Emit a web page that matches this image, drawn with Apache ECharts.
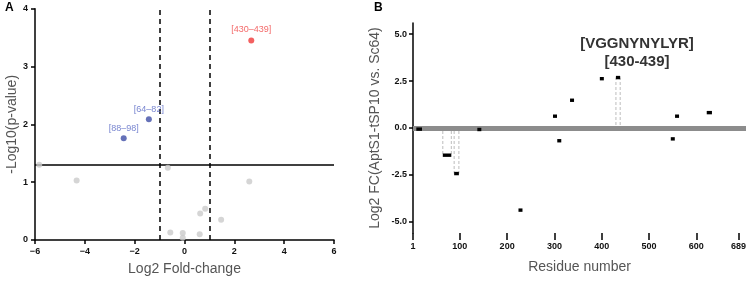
<!DOCTYPE html>
<html>
<head>
<meta charset="utf-8">
<script src="https://cdn.jsdelivr.net/npm/echarts@6/dist/echarts.min.js"></script>
<style>
  html, body { margin: 0; padding: 0; background: #fff; }
  #chart { width: 749px; height: 281px; }
</style>
</head>
<body>
<div id="chart"></div>
<script>
// panel A - volcano plot
var volcanoGray = [
  [-5.83, 1.30], [-4.33, 1.03], [-0.67, 1.25], [2.60, 1.01],
  [0.83, 0.54], [0.63, 0.46], [1.47, 0.35], [-0.57, 0.13],
  [-0.07, 0.12], [-0.07, 0.04], [0.61, 0.10]
];
var volcanoDown = [[-1.43, 2.09, '[64–82]'], [-2.44, 1.76, '[88–98]']];
var volcanoUp = [[2.68, 3.45, '[430–439]']];
var pThreshold = 1.3;
var fcThreshold = [-1, 1];

// panel B - peptides along the sequence [start, end, log2FC, highlighted]
var pepStart = [8, 64, 88, 137, 224, 297, 306, 333, 396, 430, 546, 555, 622];
var pepEnd   = [20, 82, 98, 145, 232, 305, 314, 341, 404, 439, 554, 563, 633];
var pepFC    = [-0.06, -1.45, -2.43, -0.08, -4.38, 0.63, -0.68, 1.48, 2.63, 2.69, -0.58, 0.63, 0.82];
var pepSig   = [0, 1, 1, 0, 0, 0, 0, 0, 0, 1, 0, 0, 0];
var residueTicks = [1, 100, 200, 300, 400, 500, 600, 689];
var fcTicks = [-5, -2.5, 0, 2.5, 5];

var peptides = pepStart.map(function (s, i) {
  return [s, pepEnd[i], pepFC[i], pepSig[i]];
});

var chart = echarts.init(document.getElementById('chart'));

var tickFont = { color: '#111', fontSize: 9, fontWeight: 'bold', fontFamily: 'Liberation Sans' };
var nameFont = { color: '#555', fontSize: 14, fontFamily: 'Liberation Sans' };

function renderPeptide(params, api) {
  var s = api.value(0), e = api.value(1), fc = api.value(2), sig = api.value(3);
  var p1 = api.coord([s, fc]);
  var p2 = api.coord([e, fc]);
  var zero = api.coord([s, 0]);
  var w = Math.max(p2[0] - p1[0], 4);
  var children = [];
  if (sig) {
    var yEdge = fc > 0 ? zero[1] - 3 : zero[1] + 3;
    [p1[0], p1[0] + w].forEach(function (x) {
      children.push({
        type: 'line',
        shape: { x1: x, y1: yEdge, x2: x, y2: p1[1] },
        style: { stroke: '#bdbdbd', lineWidth: 1, lineDash: [3, 2] }
      });
    });
  }
  children.push({
    type: 'rect',
    shape: { x: p1[0], y: p1[1] - 1.7, width: w, height: 3.4 },
    style: { fill: '#000' }
  });
  return { type: 'group', children: children };
}

chart.setOption({
  animation: false,
  grid: [
    { left: 35, right: 415, top: 8.7, bottom: 39.3 },
    { left: 413, right: 3, top: 23, bottom: 48 }
  ],
  xAxis: [
    {
      gridIndex: 0, type: 'value', min: -6, max: 6, interval: 2,
      name: 'Log2 Fold-change', nameLocation: 'middle', nameGap: 22, nameTextStyle: nameFont,
      axisLine: { onZero: false, lineStyle: { color: '#000', width: 1.5 } },
      axisTick: { length: 4, lineStyle: { color: '#000', width: 1.5 } },
      axisLabel: Object.assign({ margin: 7, formatter: function (v) { return String(v).replace('-', '−'); } }, tickFont),
      splitLine: { show: false }
    },
    {
      gridIndex: 1, type: 'value', min: 1, max: 705,
      name: 'Residue number', nameLocation: 'middle', nameGap: 27, nameTextStyle: nameFont,
      axisLine: { show: false, onZero: false },
      axisTick: { length: 7, customValues: residueTicks, lineStyle: { color: '#000', width: 1.5 } },
      axisLabel: Object.assign({ margin: 9, customValues: residueTicks }, tickFont),
      splitLine: { show: false }
    }
  ],
  yAxis: [
    {
      gridIndex: 0, type: 'value', min: 0, max: 4, interval: 1,
      name: '-Log10(p-value)', nameLocation: 'middle', nameGap: 16, nameTextStyle: nameFont,
      axisLine: { show: true, onZero: false, lineStyle: { color: '#000', width: 1.5 } },
      axisTick: { show: true, length: 4, lineStyle: { color: '#000', width: 1.5 } },
      axisLabel: Object.assign({ margin: 7 }, tickFont),
      splitLine: { show: false }
    },
    {
      gridIndex: 1, type: 'value', min: -5.6, max: 5.6,
      name: 'Log2 FC(AptS1-tSP10 vs. Sc64)', nameLocation: 'middle', nameGap: 31, nameTextStyle: nameFont,
      axisLine: { show: true, onZero: false, lineStyle: { color: '#000', width: 1.5 } },
      axisTick: { show: true, length: 4, customValues: fcTicks, lineStyle: { color: '#000', width: 1.5 } },
      axisLabel: Object.assign({ margin: 6, customValues: fcTicks, formatter: function (v) { return v.toFixed(1); } }, tickFont),
      splitLine: { show: false }
    }
  ],
  graphic: [
    { type: 'text', left: 5, top: 2, style: { text: 'A', font: 'bold 12px Liberation Sans', fill: '#000' } },
    { type: 'text', left: 374, top: 2, style: { text: 'B', font: 'bold 12px Liberation Sans', fill: '#000' } },
    { type: 'text', x: 637, y: 44, style: { text: '[VGGNYNYLYR]', font: 'bold 15px Liberation Sans', fill: '#333', align: 'center', verticalAlign: 'middle' } },
    { type: 'text', x: 637, y: 62, style: { text: '[430-439]', font: 'bold 15px Liberation Sans', fill: '#333', align: 'center', verticalAlign: 'middle' } }
  ],
  series: [
    {
      type: 'line', xAxisIndex: 0, yAxisIndex: 0, data: [], z: 1,
      markLine: {
        silent: true, symbol: 'none', label: { show: false },
        lineStyle: { color: '#000', width: 1.5, type: 'solid' },
        data: [
          { yAxis: pThreshold },
          { xAxis: fcThreshold[0], lineStyle: { type: [5, 4] } },
          { xAxis: fcThreshold[1], lineStyle: { type: [5, 4] } }
        ]
      }
    },
    {
      type: 'scatter', xAxisIndex: 0, yAxisIndex: 0, symbolSize: 6, zlevel: 1,
      itemStyle: { color: '#cbcbcb' }, data: volcanoGray
    },
    {
      type: 'scatter', xAxisIndex: 0, yAxisIndex: 0, symbolSize: 6, zlevel: 1,
      itemStyle: { color: '#3f4ea6' }, data: volcanoDown,
      label: { show: true, position: 'top', distance: 2, formatter: function (p) { return p.value[2]; },
        color: '#5666c4', fontSize: 9, fontFamily: 'Liberation Sans' }
    },
    {
      type: 'scatter', xAxisIndex: 0, yAxisIndex: 0, symbolSize: 6, zlevel: 1,
      itemStyle: { color: '#f03838' }, data: volcanoUp,
      label: { show: true, position: 'top', distance: 3, formatter: function (p) { return p.value[2]; },
        color: '#f04444', fontSize: 9, fontFamily: 'Liberation Sans' }
    },
    {
      type: 'line', xAxisIndex: 1, yAxisIndex: 1, data: [], zlevel: 0,
      markLine: {
        silent: true, symbol: 'none', label: { show: false },
        lineStyle: { color: '#8c8c8c', width: 5, type: 'solid' },
        data: [{ yAxis: 0 }]
      }
    },
    {
      type: 'custom', xAxisIndex: 1, yAxisIndex: 1, zlevel: 1,
      renderItem: renderPeptide, data: peptides
    }
  ]
});
</script>
</body>
</html>
